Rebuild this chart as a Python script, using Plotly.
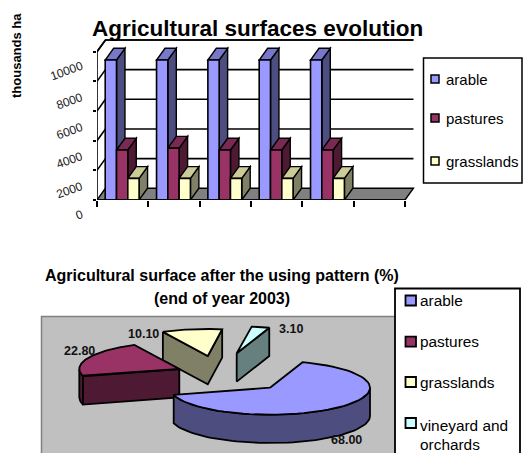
import math
import plotly.graph_objects as go

# ---- bar chart data ----
SERIES = ["arable", "pastures", "grasslands"]
SLOTS = [0.49, 1.49, 2.49, 3.49, 4.49]
ARABLE = [9440, 9440, 9440, 9440, 9440]
PASTURES = [3370, 3500, 3370, 3370, 3370]
GRASSLANDS = [1460, 1460, 1460, 1460, 1460]
VALUE_TICKS = [0, 2000, 4000, 6000, 8000, 10000]
SLOT_TICKS = [0, 1, 2, 3, 4, 5, 6]

# ---- pie chart data ----
PIE_NAMES = ["arable", "pastures", "grasslands", "vineyard and orchards"]
PIE_VALUES = [68.00, 22.80, 10.10, 3.10]
PIE_LABELS = ["68.00", "22.80", "10.10", "3.10"]

FRONT = ["#9999FF", "#993366", "#FFFFCC", "#CCFFFF"]
SIDE = ["#4D4D80", "#4D1933", "#808066", "#668080"]
FONT = "Liberation Sans"
W, H = 525, 453

# bar plot geometry
PX_X = 51.33          # pixels per slot
PX_Y = 148.3 / 10000  # pixels per value unit
X0, Y0 = 97, 200
X_TOP, Y_TOP = 6.3, 10900
DX, DY = 0.165, 790   # depth offset of the 3D box
BAR_W = 0.22

shapes, annotations = [], []


def poly(points):
    return "M" + " L".join(f"{x:.3f} {y:.3f}" for x, y in points) + " Z"


def line3d(x0, y0, x1, y1):
    shapes.append(dict(type="line", xref="x", yref="y", x0=x0, y0=y0, x1=x1, y1=y1,
                       layer="between", line=dict(color="black", width=1.6)))


def face(points, fill):
    shapes.append(dict(type="path", xref="x", yref="y", path=poly(points), layer="between",
                       fillcolor=fill, line=dict(color="black", width=1.4)))


def page_text(x, y, text, size, bold=False, **kw):
    annotations.append(dict(xref="x2", yref="y2", x=x, y=y, text=f"<b>{text}</b>" if bold else text,
                            showarrow=False, font=dict(family=FONT, size=size, color=kw.pop("color", "black")),
                            **kw))


# back wall: grid lines and the slanted ties to the value axis
for v in VALUE_TICKS[1:]:
    line3d(DX, v + DY, 6 + DX + 0.0, v + DY)
    line3d(0, v, DX, v + DY)

# floor
face([(0, 0), (6, 0), (6 + DX, DY), (DX, DY)], "#808080")

# depth faces of the columns, behind the column fronts
fig = go.Figure()
offsets = [-1.5 * BAR_W, -0.5 * BAR_W, 0.5 * BAR_W]
for k, vals in enumerate([ARABLE, PASTURES, GRASSLANDS]):
    for c, v in zip(SLOTS, vals):
        l = c + offsets[k]
        r = l + BAR_W
        face([(r, 0), (r + DX, DY), (r + DX, v + DY), (r, v)], SIDE[k])
        face([(l, v), (r, v), (r + DX, v + DY), (l + DX, v + DY)],
             {0: "#7777CC", 1: "#7A2952", 2: "#CCCC99"}[k])

for k, vals in enumerate([ARABLE, PASTURES, GRASSLANDS]):
    fig.add_trace(go.Bar(x=SLOTS, y=vals, name=SERIES[k], width=BAR_W, offset=offsets[k],
                         marker=dict(color=FRONT[k], line=dict(color="black", width=1.6)),
                         cliponaxis=False, showlegend=False, hoverinfo="skip"))

# value axis line and floor front edge
fig.add_trace(go.Scatter(x=[6, 0, 0, DX, 6 + DX], y=[0, 0, 10000, 10000 + DY, 10000 + DY], mode="lines",
                         line=dict(color="black", width=1.6), cliponaxis=False,
                         showlegend=False, hoverinfo="skip"))

# value labels, tilted and sitting below their ticks
for v in VALUE_TICKS:
    annotations.append(dict(xref="x2", yref="y2", x=87.5, y=Y0 - v * PX_Y + (15 if v == 0 else 19.5), text=str(v),
                            showarrow=False, xanchor="right", textangle=-20,
                            font=dict(family=FONT, size=12, color="#222222")))

page_text(257.5, 28, "Agricultural surfaces evolution", 22.5, True)
page_text(16, 56, "thousands ha", 13, True, textangle=-90)

# bar chart legend
shapes.append(dict(type="rect", xref="x2", yref="y2", x0=423.5, x1=522, y0=58, y1=183, layer="above",
                   fillcolor="white", line=dict(color="black", width=1.5)))
for name, fill, yc in zip(SERIES, FRONT, [79, 118, 161]):
    shapes.append(dict(type="rect", xref="x2", yref="y2", x0=431, x1=439, y0=yc - 4, y1=yc + 4, layer="above",
                       fillcolor=fill, line=dict(color="black", width=1.5)))
    page_text(443.5, yc, name, 15, xanchor="left")

# ---- pie drawing ----
A, B, THICK = 100, 27, 28.3
START = 19.0
APEX = [(270, 387.7), (179.3, 369), (207.8, 356), (236.7, 353.3)]

# wall of the pie chart
shapes.append(dict(type="rect", xref="x2", yref="y2", x0=41.5, x1=400, y0=316.5, y1=460, layer="below",
                   fillcolor="#C0C0C0", line=dict(color="#808080", width=1.5)))

total = sum(PIE_VALUES)
spans, a0 = [], START
for v in PIE_VALUES:
    a1 = a0 + v / total * 360
    spans.append((a0, a1))
    a0 = a1


def rim(apex, t):
    r = math.radians(t)
    return apex[0] + A * math.sin(r), apex[1] - B * math.cos(r)


def arc(apex, t0, t1, n=60):
    return [rim(apex, t0 + (t1 - t0) * i / n) for i in range(n + 1)]


def down(points):
    return [(x, y + THICK) for x, y in points]


def fill_poly(points, colour):
    xs, ys = zip(*points)
    fig.add_trace(go.Scatter(x=list(xs) + [xs[0]], y=list(ys) + [ys[0]], xaxis="x2", yaxis="y2", mode="lines",
                             fill="toself", fillcolor=colour, line=dict(color="black", width=1.8),
                             showlegend=False, hoverinfo="skip"))


def wall(points, colour):
    fill_poly(points + down(points)[::-1], colour)


for i in [2, 1, 3, 0]:
    apex = APEX[i]
    t0, t1 = spans[i]
    if i == 0:
        wall(arc(apex, 90, t1), SIDE[i])
    elif i == 1:
        wall(arc(apex, t0, 270, 10), SIDE[i])
        wall([rim(apex, t0), apex], SIDE[i])
    elif i == 2:
        wall([rim(apex, t0), apex, rim(apex, t1)], SIDE[i])
    else:
        wall([apex, rim(apex, t1)], SIDE[i])
    fill_poly([apex] + arc(apex, t0, t1), FRONT[i])

for text, (x, y) in zip(PIE_LABELS, [(346, 440), (79.3, 351), (143.3, 334), (290.7, 329)]):
    page_text(x, y, text, 12.5, True, color="#111111")

page_text(222, 275, "Agricultural surface after the using pattern (%)", 16, True)
page_text(222, 298, "(end of year 2003)", 16, True)

# pie legend
shapes.append(dict(type="rect", xref="x2", yref="y2", x0=395, x1=520, y0=288.5, y1=460, layer="above",
                   fillcolor="white", line=dict(color="black", width=1.8)))
for name, fill, yc in zip(PIE_NAMES, FRONT, [300.5, 341.7, 382, 423]):
    shapes.append(dict(type="rect", xref="x2", yref="y2", x0=405.5, x1=416, y0=yc - 5, y1=yc + 5, layer="above",
                       fillcolor=fill, line=dict(color="black", width=1.8)))
    if " and " in name:
        head, tail = name.split(" and ")
        page_text(418, yc + 2, head + " and", 15.4, xanchor="left")
        page_text(418, yc + 21, tail, 15.4, xanchor="left")
    else:
        page_text(418, yc, name, 15.4, xanchor="left")

fig.update_layout(
    width=W, height=H, autosize=False, margin=dict(l=0, r=0, t=0, b=0),
    paper_bgcolor="white", plot_bgcolor="rgba(0,0,0,0)", barmode="overlay",
    shapes=shapes, annotations=annotations,
    xaxis=dict(domain=[X0 / W, (X0 + X_TOP * PX_X) / W], range=[0, X_TOP], tickvals=SLOT_TICKS, ticks="outside",
               ticklen=6, tickwidth=1.6, tickcolor="black", showticklabels=False, showgrid=False,
               zeroline=False, showline=False),
    yaxis=dict(domain=[1 - Y0 / H, 1 - (Y0 - Y_TOP * PX_Y) / H], range=[0, Y_TOP], tickvals=VALUE_TICKS,
               ticks="outside", ticklen=3, tickwidth=1.6, tickcolor="black", showticklabels=False,
               showgrid=False, zeroline=False, showline=False),
    xaxis2=dict(domain=[0, 1], range=[0, W], anchor="y2", visible=False),
    yaxis2=dict(domain=[0, 1], range=[H, 0], anchor="x2", visible=False),
)

fig.write_html("out.html")
